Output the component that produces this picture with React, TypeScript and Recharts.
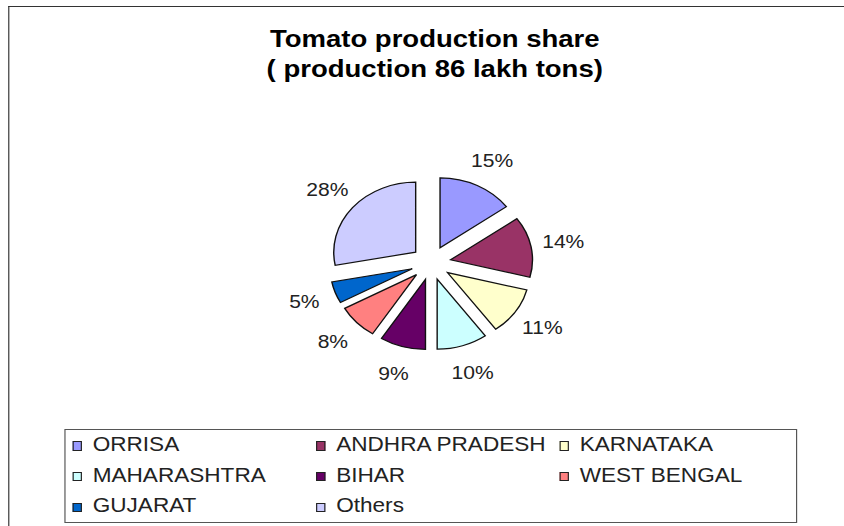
import { Legend, Pie, PieChart, Sector } from "recharts";

// shares in percent, clockwise from 12 o'clock
const STATES = [
  "ORRISA",
  "ANDHRA PRADESH",
  "KARNATAKA",
  "MAHARASHTRA",
  "BIHAR",
  "WEST BENGAL",
  "GUJARAT",
  "Others",
];
const SHARES = [15, 14, 11, 10, 9, 8, 5, 28];
const COLORS = ["#9999FF", "#993366", "#FFFFCC", "#CCFFFF", "#660066", "#FF8080", "#0066CC", "#CCCCFF"];

const data = STATES.map((name, i) => ({ name, value: SHARES[i], fill: COLORS[i] }));

// the source picture is stretched sideways, so draw narrow and widen it
const W = 721;
const H = 526;
const STRETCH = 844 / W;
const RADIAN = Math.PI / 180;
const EXPLODE = 17;
const LABEL_R = 115;

// each slice is drawn here, pushed out along its mid angle, with its % label
const renderSlice = (props: any) => {
  const { cx, cy, midAngle, outerRadius, startAngle, endAngle, percent, index } = props;
  const dx = Math.cos(-midAngle * RADIAN);
  const dy = Math.sin(-midAngle * RADIAN);
  return (
    <g>
      <Sector
        cx={cx + EXPLODE * dx}
        cy={cy + EXPLODE * dy}
        innerRadius={0}
        outerRadius={outerRadius}
        startAngle={startAngle}
        endAngle={endAngle}
        fill={COLORS[index]}
        stroke="#111"
        strokeWidth={1.2}
      />
      <text
        x={cx + LABEL_R * dx}
        y={cy + LABEL_R * dy}
        textAnchor="middle"
        dominantBaseline="central"
        fontSize={18}
        fill="#222"
        fontFamily='"Liberation Sans", Arial, sans-serif'
      >
        {`${Math.round(percent * 100)}%`}
      </text>
    </g>
  );
};

// keep the legend in data order (recharts sorts it by name otherwise)
const renderLegend = (props: any) => {
  const payload = [...(props.payload ?? [])].sort(
    (a: any, b: any) => STATES.indexOf(a.value) - STATES.indexOf(b.value)
  );
  return (
    <div
      style={{
        boxSizing: "border-box",
        width: 626,
        height: 94,
        border: "1px solid #555",
        display: "grid",
        gridTemplateColumns: "208px 208px 208px",
        fontFamily: '"Liberation Sans", Arial, sans-serif',
      }}
    >
      {payload.map((entry: any, i: number) => (
        <div key={i} style={{ display: "flex", alignItems: "center", height: 30, paddingLeft: 6.5 }}>
          <span
            style={{
              boxSizing: "border-box",
              display: "inline-block",
              flex: "0 0 auto",
              width: 7.5,
              height: 9.5,
              marginTop: 2,
              border: "1px solid #222",
              background: entry.color ?? COLORS[STATES.indexOf(entry.value)],
            }}
          />
          <span style={{ marginLeft: 9.5, fontSize: 19.3, color: "#222", whiteSpace: "nowrap" }}>
            {entry.value}
          </span>
        </div>
      ))}
    </div>
  );
};

export default function App() {
  return (
    <div
      style={{
        position: "absolute",
        left: 0,
        top: 0,
        width: W,
        height: H,
        background: "#fff",
        transform: `scaleX(${STRETCH})`,
        transformOrigin: "0 0",
        overflow: "hidden",
        fontFamily: '"Liberation Sans", Arial, sans-serif',
      }}
    >
      {/* frame: only the top and left edges show in the crop */}
      <div style={{ position: "absolute", left: 6.8, top: 5.5, width: W, height: 1.5, background: "#333" }} />
      <div style={{ position: "absolute", left: 7, top: 5.5, width: 1.4, height: H, background: "#333" }} />

      <div
        style={{
          position: "absolute",
          left: 171.4,
          top: 23.6,
          width: 400,
          textAlign: "center",
          fontWeight: "bold",
          fontSize: 23.5,
          lineHeight: "30px",
          color: "#000",
        }}
      >
        Tomato production share
        <br />( production 86 lakh tons)
      </div>

      <div style={{ position: "absolute", left: 0, top: 0 }}>
        <PieChart width={W} height={H} margin={{ top: 0, right: 0, bottom: 0, left: 0 }}>
          <Pie
            data={data}
            dataKey="value"
            nameKey="name"
            cx={368.2}
            cy={263}
            innerRadius={0}
            outerRadius={70}
            startAngle={90}
            endAngle={-270}
            fillOpacity={0}
            stroke="none"
            label={renderSlice}
            labelLine={false}
            isAnimationActive={false}
          />
          <Legend
            content={renderLegend}
            verticalAlign="bottom"
            align="left"
            width={626}
            wrapperStyle={{ left: 54.7, top: 429, bottom: "auto", width: 626, height: 94 }}
          />
        </PieChart>
      </div>
    </div>
  );
}
